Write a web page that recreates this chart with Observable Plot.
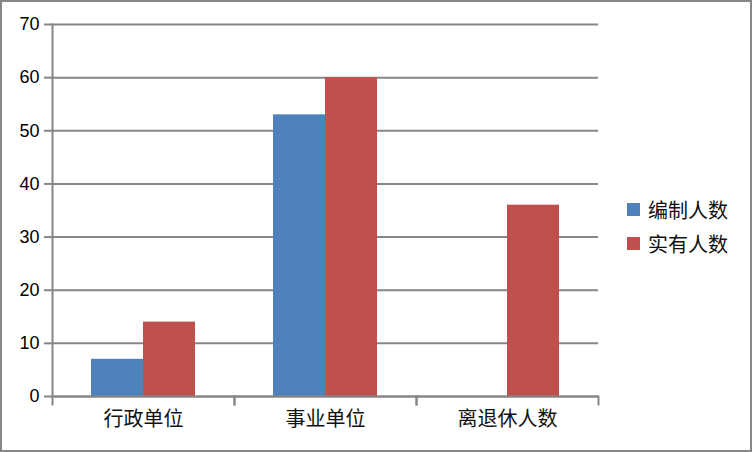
<!DOCTYPE html>
<html>
<head>
<meta charset="utf-8">
<script src="https://cdn.jsdelivr.net/npm/d3@7"></script>
<script src="https://cdn.jsdelivr.net/npm/@observablehq/plot@0.6"></script>
<style>
  html, body { margin: 0; padding: 0; background: #fff; }
  #wrap { position: relative; width: 752px; height: 452px; overflow: hidden; }
  #wrap svg { display: block; }
  #border { position: absolute; left: 0; top: 0; width: 752px; height: 452px; box-sizing: border-box; border: 2px solid #868686; pointer-events: none; }
  #legend { position: absolute; left: 627px; top: 192px; font-family: "Noto Sans CJK SC", sans-serif; font-size: 20px; color: #111; }
  #legend .item { display: flex; align-items: center; height: 34px; }
  #legend .sw { width: 13px; height: 13px; margin-right: 8px; }
</style>
</head>
<body>
<div id="wrap"><div id="legend"></div><div id="border"></div></div>
<script>
const categories = ["行政单位", "事业单位", "离退休人数"];
const seriesNames = ["编制人数", "实有人数"];
const plannedStaff = [7, 53, 0];
const actualStaff = [14, 60, 36];
const yTicks = [0, 10, 20, 30, 40, 50, 60, 70];
const colors = ["#4F81BD", "#C0504D"];

const rows = [];
categories.forEach((c, i) => {
  rows.push({category: c, series: seriesNames[0], value: plannedStaff[i]});
  rows.push({category: c, series: seriesNames[1], value: actualStaff[i]});
});

const gray = "#868686";
const plot = Plot.plot({
  width: 752,
  height: 452,
  marginLeft: 52,
  marginRight: 154,
  marginTop: 24,
  marginBottom: 56,
  style: {fontFamily: "'Liberation Sans', 'Noto Sans CJK SC', sans-serif", color: "#000", background: "transparent"},
  fx: {domain: categories, padding: 0, label: null},
  x: {domain: seriesNames, paddingInner: 0, paddingOuter: 0.75, axis: null},
  y: {domain: [0, 70], label: null},
  color: {domain: seriesNames, range: colors},
  marks: [
    Plot.gridY(yTicks, {stroke: gray, strokeOpacity: 1, strokeWidth: 2}),
    Plot.axisY(yTicks, {tickSize: 8, tickPadding: 5, stroke: gray, strokeOpacity: 1, strokeWidth: 2, fontSize: 18, fill: "#000", label: null}),
    Plot.barY(rows, {fx: "category", x: "series", y: "value", fill: "series"}),
    Plot.ruleY([0], {stroke: gray, strokeWidth: 2}),
    Plot.frame({anchor: "left", fx: [categories[0]], stroke: gray, strokeWidth: 2}),
    Plot.frame({anchor: "left", stroke: gray, strokeWidth: 2, insetTop: 372, insetBottom: -8}),
    Plot.frame({anchor: "right", stroke: gray, strokeWidth: 2, insetTop: 372, insetBottom: -8}),
    Plot.axisFx({anchor: "bottom", tickSize: 0, tickPadding: 15, fontSize: 20, fill: "#111", fontFamily: "'Noto Sans CJK SC', sans-serif", label: null})
  ]
});
const wrap = document.getElementById("wrap");
wrap.insertBefore(plot, wrap.firstChild);

const legend = document.getElementById("legend");
seriesNames.forEach((s, i) => {
  const item = document.createElement("div");
  item.className = "item";
  const sw = document.createElement("span");
  sw.className = "sw";
  sw.style.background = colors[i];
  const t = document.createElement("span");
  t.textContent = s;
  item.appendChild(sw);
  item.appendChild(t);
  legend.appendChild(item);
});
</script>
</body>
</html>
